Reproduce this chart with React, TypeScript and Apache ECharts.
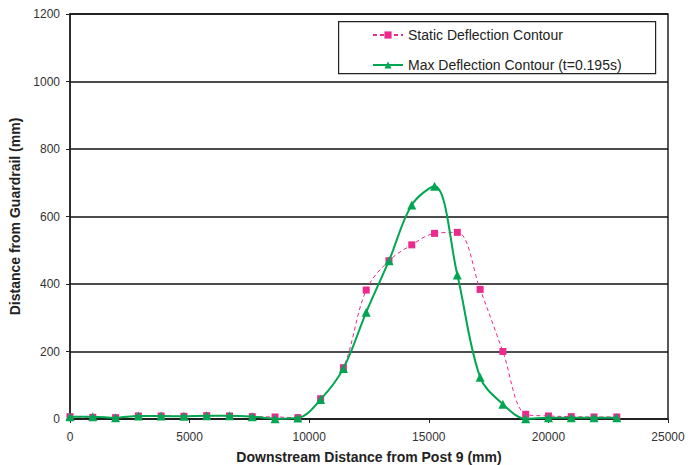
import React, { useEffect, useRef } from "react";
import * as echarts from "echarts";

// Distance downstream from Post 9 (mm), one reading every half post spacing
const distances = Array.from({ length: 25 }, (_, i) => i * 952.5);

// Static deflection contour (mm)
const staticDeflection = [
  7, 5, 4, 9, 9, 8, 10, 9, 7, 6, 4, 60, 152, 382, 469, 516, 550, 553, 384, 200, 14, 9, 7, 6, 6,
];

// Maximum deflection contour at t = 0.195 s (mm)
const maxDeflection = [
  7, 7, 4, 9, 9, 8, 10, 10, 7, 1, 3, 58, 150, 316, 469, 634, 690, 427, 124, 44, 1, 4, 4, 4, 4,
];

const xTicks = { min: 0, max: 25000, interval: 5000 };
const yTicks = { min: 0, max: 1200, interval: 200 };

const PINK = "#ec2a8e";
const GREEN = "#00a651";
const FONT = "Liberation Sans, Arial, sans-serif";

export default function App() {
  const ref = useRef<HTMLDivElement>(null);

  useEffect(() => {
    if (!ref.current) return;
    const chart = echarts.init(ref.current, undefined, { renderer: "svg" });
    chart.setOption({
      animation: false,
      backgroundColor: "#ffffff",
      textStyle: { fontFamily: FONT },
      grid: {
        left: 70,
        right: 31,
        top: 14,
        bottom: 46,
        outerBoundsMode: "none",
        containLabel: false,
        show: true,
        borderColor: "#222",
        borderWidth: 1.5,
      },
      graphic: [
        {
          type: "rect",
          left: 338,
          top: 21,
          shape: { width: 317, height: 52 },
          style: { fill: "#fff", stroke: "#222", lineWidth: 1.2 },
          z: 5,
        },
      ],
      legend: {
        orient: "vertical",
        left: 338,
        top: 21,
        padding: [7, 20, 5, 34],
        itemWidth: 30,
        itemHeight: 9,
        itemGap: 16,
        z: 10,
        textStyle: { fontFamily: FONT, fontSize: 14, color: "#222" },
        data: ["Static Deflection Contour", "Max Deflection Contour (t=0.195s)"],
      },
      xAxis: {
        type: "value",
        ...xTicks,
        name: "Downstream Distance from Post 9 (mm)",
        nameLocation: "middle",
        nameGap: 31,
        nameTextStyle: { fontFamily: FONT, fontSize: 14, fontWeight: "bold", color: "#222" },
        axisLine: { show: true, lineStyle: { color: "#222", width: 1.5 } },
        axisTick: { show: true, inside: false, length: 4, lineStyle: { color: "#222" } },
        axisLabel: {
          fontFamily: FONT,
          fontSize: 12,
          color: "#333",
          margin: 12,
          formatter: (v: number) => String(v),
        },
        splitLine: { show: false },
      },
      yAxis: {
        type: "value",
        ...yTicks,
        name: "Distance from Guardrail (mm)",
        nameLocation: "middle",
        nameGap: 43,
        nameTextStyle: { fontFamily: FONT, fontSize: 14, fontWeight: "bold", color: "#222" },
        axisLine: { show: true, lineStyle: { color: "#222", width: 1.5 } },
        axisTick: { show: true, inside: false, length: 4, lineStyle: { color: "#222" } },
        axisLabel: {
          fontFamily: FONT,
          fontSize: 12,
          color: "#333",
          margin: 10,
          formatter: (v: number) => String(v),
        },
        splitLine: { show: true, lineStyle: { color: "#111", width: 1.5 } },
      },
      series: [
        {
          name: "Static Deflection Contour",
          type: "line",
          smooth: 0.35,
          data: distances.map((d, i) => [d, staticDeflection[i]]),
          symbol: "rect",
          symbolSize: 7,
          itemStyle: { color: PINK },
          lineStyle: { color: PINK, width: 1, type: [4, 3] },
          z: 3,
        },
        {
          name: "Max Deflection Contour (t=0.195s)",
          type: "line",
          smooth: 0.35,
          data: distances.map((d, i) => [d, maxDeflection[i]]),
          symbol: "triangle",
          symbolSize: 9,
          itemStyle: { color: GREEN },
          lineStyle: { color: GREEN, width: 2 },
          z: 4,
        },
      ],
    });
    return () => chart.dispose();
  }, []);

  return (
    <div
      ref={ref}
      style={{ position: "fixed", left: 0, top: 0, width: 699, height: 465 }}
    />
  );
}
